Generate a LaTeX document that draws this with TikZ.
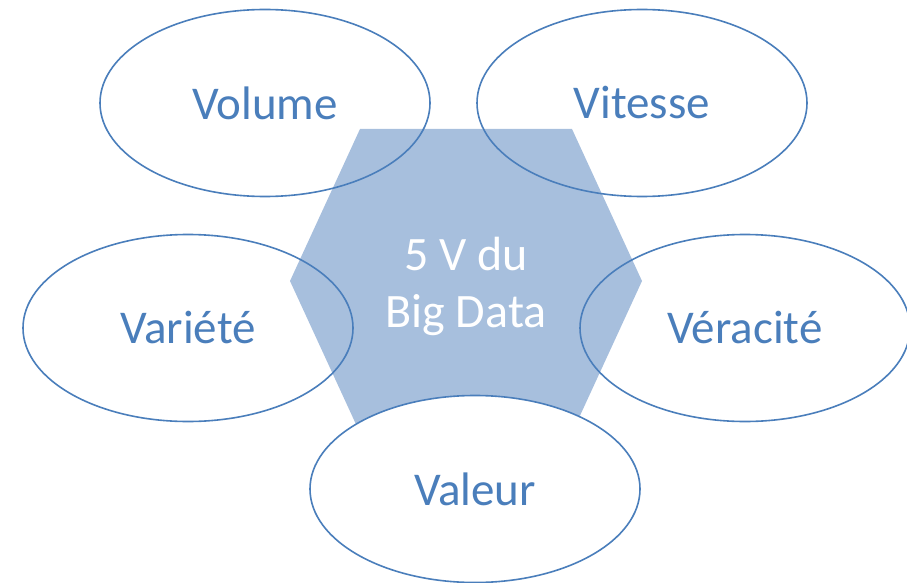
\documentclass[tikz,border=0pt]{standalone}
\usepackage{fontspec}
\setmainfont{Carlito}
\usetikzlibrary{shapes.geometric}
\definecolor{vblue}{HTML}{4A7EBB}
\definecolor{hexfill}{HTML}{A7BFDD}

\begin{document}
\begin{tikzpicture}[x=1pt,y=-1pt,
  vbubble/.style={ellipse, draw=vblue, line width=1.6pt, minimum width=330pt,
    minimum height=187pt, inner sep=0pt, text=vblue, font=\fontsize{47}{56}\selectfont},
  bigdata/.style={inner sep=0pt, text=white, align=center,
    font=\fontsize{48}{57}\selectfont}]
\useasboundingbox (0,0) rectangle (907,583);
% centre
\fill[hexfill] (360,129) -- (572,129) -- (642,281) -- (572,433) -- (360,433) -- (290,281) -- cycle;
\node[bigdata] (hex) at (466,286) {5 V du\\Big Data};
% the five V
\node[vbubble] (volume) at (265,103) {Volume};
\node[vbubble] (vitesse) at (642,103) {Vitesse};
\node[vbubble] (variete) at (188,328) {Variété};
\node[vbubble] (veracite) at (745,328) {Véracité};
\node[vbubble, fill=white] (valeur) at (475,489) {Valeur};
\end{tikzpicture}
\end{document}
